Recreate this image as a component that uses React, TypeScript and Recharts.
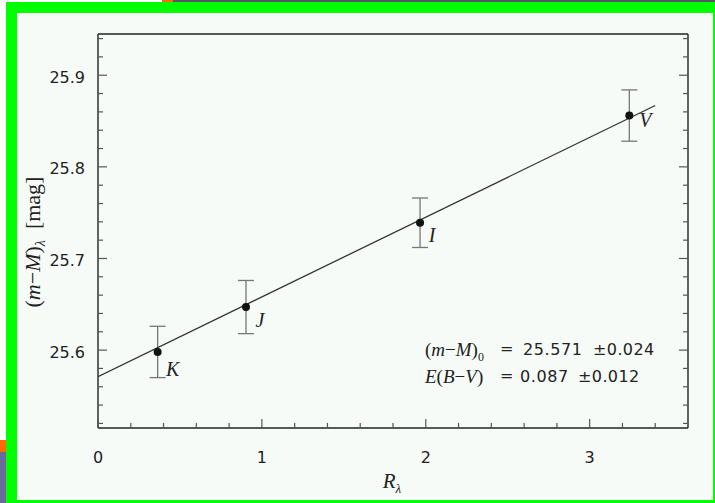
import React from "react";
import { ComposedChart, Scatter, ErrorBar, XAxis, YAxis } from "recharts";

// photometric bands, extinction ratio R_lambda and apparent distance modulus
const bands = ["K", "J", "I", "V"];
const rLambda = [0.364, 0.903, 1.965, 3.242];
const modulus = [25.598, 25.647, 25.739, 25.856];
const modulusErr = [0.028, 0.029, 0.027, 0.028];

// end points of the fitted line
const fitR = [0, 3.4];
const fitModulus = [25.571, 25.867];

const xTicks = [0, 0.2, 0.4, 0.6, 0.8, 1, 1.2, 1.4, 1.6, 1.8, 2, 2.2, 2.4, 2.6, 2.8, 3, 3.2, 3.4];
const xLabelTicks = [0, 1, 2, 3];
const yTicks = [
  25.52, 25.54, 25.56, 25.58, 25.6, 25.62, 25.64, 25.66, 25.68, 25.7, 25.72,
  25.74, 25.76, 25.78, 25.8, 25.82, 25.84, 25.86, 25.88, 25.9, 25.92, 25.94,
];
const yLabelTicks = [25.6, 25.7, 25.8, 25.9];

const points = bands.map((band, i) => ({
  band,
  x: rLambda[i],
  y: modulus[i],
  err: modulusErr[i],
}));
const fitLine = fitR.map((x, i) => ({ x, y: fitModulus[i] }));

// where each band letter sits relative to its point (px)
const bandLabelOffset: Record<string, [number, number]> = {
  K: [15, 17],
  J: [14, 13],
  I: [12, 12],
  V: [16, 4],
};

const serif = "'Liberation Serif', 'DejaVu Serif', serif";
const sans = "'DejaVu Sans', 'Liberation Sans', sans-serif";
const ink = "#222";

const isOn = (v: number, list: number[]) => list.some((t) => Math.abs(t - v) < 1e-6);

function FrameTick(props: any) {
  const { x, y, payload, side, labels } = props;
  const v = payload.value;
  const major = isOn(v, labels);
  const len = major ? 9 : 5;
  let x2 = x;
  let y2 = y;
  if (side === "bottom") y2 = y - len;
  if (side === "top") y2 = y + len;
  if (side === "left") x2 = x + len;
  if (side === "right") x2 = x - len;
  return (
    <g>
      <line x1={x} y1={y} x2={x2} y2={y2} stroke="#555" strokeWidth={1.2} />
      {major && side === "bottom" && (
        <text x={x} y={y + 29} textAnchor="middle" dominantBaseline="central" fontFamily={sans} fontSize={16} fill={ink}>
          {v}
        </text>
      )}
      {major && side === "left" && (
        <text x={x - 13} y={y + 2} textAnchor="end" dominantBaseline="central" fontFamily={sans} fontSize={16} fill={ink}>
          {v.toFixed(1)}
        </text>
      )}
    </g>
  );
}

function BandPoint(props: any) {
  const { cx, cy, payload } = props;
  const [dx, dy] = bandLabelOffset[payload.band] || [14, 10];
  return (
    <g>
      <circle cx={cx} cy={cy} r={4} fill="#111" />
      <text
        x={cx + dx}
        y={cy + dy}
        textAnchor="middle"
        dominantBaseline="central"
        fontFamily={serif}
        fontStyle="italic"
        fontSize={20}
        fill={ink}
      >
        {payload.band}
      </text>
    </g>
  );
}

const abs = (left: number, top: number, extra: React.CSSProperties = {}): React.CSSProperties => ({
  position: "absolute",
  left,
  top,
  whiteSpace: "nowrap",
  lineHeight: 1,
  color: ink,
  ...extra,
});

export default function App() {
  const axisLine = { stroke: "#222", strokeWidth: 1.4 };
  return (
    <div style={{ position: "absolute", left: 0, top: 0, width: 715, height: 503, background: "#fff", overflow: "hidden" }}>
      {/* screenshot frame */}
      <div style={{ position: "absolute", left: 173, top: 0, width: 542, height: 2, background: "#55556a" }} />
      <div style={{ position: "absolute", left: 162, top: 0, width: 11, height: 2, background: "#ff6a00" }} />
      <div style={{ position: "absolute", left: 0, top: 440, width: 6, height: 12, background: "#ff6a00" }} />
      <div style={{ position: "absolute", left: 0, top: 452, width: 6, height: 51, background: "#6b6b9b" }} />
      <div style={{ position: "absolute", left: 6, top: 2, width: 709, height: 501, background: "#00ff00" }} />
      <div style={{ position: "absolute", left: 17, top: 13, width: 696, height: 487, background: "#f6fbf7" }} />

      <div style={{ position: "absolute", left: 0, top: 0 }}>
        <ComposedChart width={715} height={503} margin={{ top: 29, right: 22, bottom: 45, left: 38 }}>
          <XAxis
            xAxisId="main"
            dataKey="x"
            type="number"
            domain={[0, 3.6]}
            allowDataOverflow
            ticks={xTicks}
            interval={0}
            height={30}
            tickSize={0}
            tickMargin={0}
            tickLine={false}
            axisLine={axisLine}
            tick={(p: any) => <FrameTick {...p} side="bottom" labels={xLabelTicks} />}
          />
          <XAxis
            xAxisId="top"
            orientation="top"
            type="number"
            domain={[0, 3.6]}
            allowDataOverflow
            ticks={xTicks}
            interval={0}
            height={5}
            tickSize={0}
            tickMargin={0}
            tickLine={false}
            axisLine={axisLine}
            tick={(p: any) => <FrameTick {...p} side="top" labels={xLabelTicks} />}
          />
          <YAxis
            yAxisId="main"
            dataKey="y"
            type="number"
            domain={[25.515, 25.945]}
            allowDataOverflow
            ticks={yTicks}
            interval={0}
            width={60}
            tickSize={0}
            tickMargin={0}
            tickLine={false}
            axisLine={axisLine}
            tick={(p: any) => <FrameTick {...p} side="left" labels={yLabelTicks} />}
          />
          <YAxis
            yAxisId="right"
            orientation="right"
            type="number"
            domain={[25.515, 25.945]}
            allowDataOverflow
            ticks={yTicks}
            interval={0}
            width={5}
            tickSize={0}
            tickMargin={0}
            tickLine={false}
            axisLine={axisLine}
            tick={(p: any) => <FrameTick {...p} side="right" labels={yLabelTicks} />}
          />
          <Scatter
            xAxisId="main"
            yAxisId="main"
            data={fitLine}
            line={{ stroke: "#333", strokeWidth: 1.3 }}
            shape={() => <g />}
            isAnimationActive={false}
          />
          <Scatter
            xAxisId="main"
            yAxisId="main"
            data={points}
            shape={(p: any) => <BandPoint {...p} />}
            isAnimationActive={false}
          >
            <ErrorBar dataKey="err" direction="y" width={8} stroke="#777" strokeWidth={1.3} />
          </Scatter>
        </ComposedChart>
      </div>

      {/* axis titles */}
      <div
        style={abs(35, 242, {
          transform: "translate(-50%, -50%) rotate(-90deg)",
          fontFamily: serif,
          fontSize: 22,
        })}
      >
        (<i>m</i>−<i>M</i>)<sub style={{ fontSize: 14 }}><i>λ</i></sub>&nbsp;&nbsp;[mag]
      </div>
      <div style={abs(392, 483, { transform: "translate(-50%, -50%)", fontFamily: serif, fontSize: 21 })}>
        <i>R</i>
        <sub style={{ fontSize: 13 }}><i>λ</i></sub>
      </div>

      {/* fit result */}
      <div style={abs(425, 340, { fontFamily: serif, fontSize: 19 })}>
        (<i>m</i>−<i>M</i>)<sub style={{ fontSize: 12 }}>0</sub>
      </div>
      <div style={abs(500, 341, { fontFamily: sans, fontSize: 16 })}>=</div>
      <div style={abs(523, 342, { fontFamily: sans, fontSize: 16, letterSpacing: 0.6 })}>25.571</div>
      <div style={abs(593, 342, { fontFamily: sans, fontSize: 16, letterSpacing: 0.4 })}>±0.024</div>

      <div style={abs(425, 367, { fontFamily: serif, fontSize: 19 })}>
        <i>E</i>(<i>B</i>−<i>V</i>)
      </div>
      <div style={abs(500, 368, { fontFamily: sans, fontSize: 16 })}>=</div>
      <div style={abs(520, 369, { fontFamily: sans, fontSize: 16, letterSpacing: 0.6 })}>0.087</div>
      <div style={abs(578, 369, { fontFamily: sans, fontSize: 16, letterSpacing: 0.4 })}>±0.012</div>
    </div>
  );
}
